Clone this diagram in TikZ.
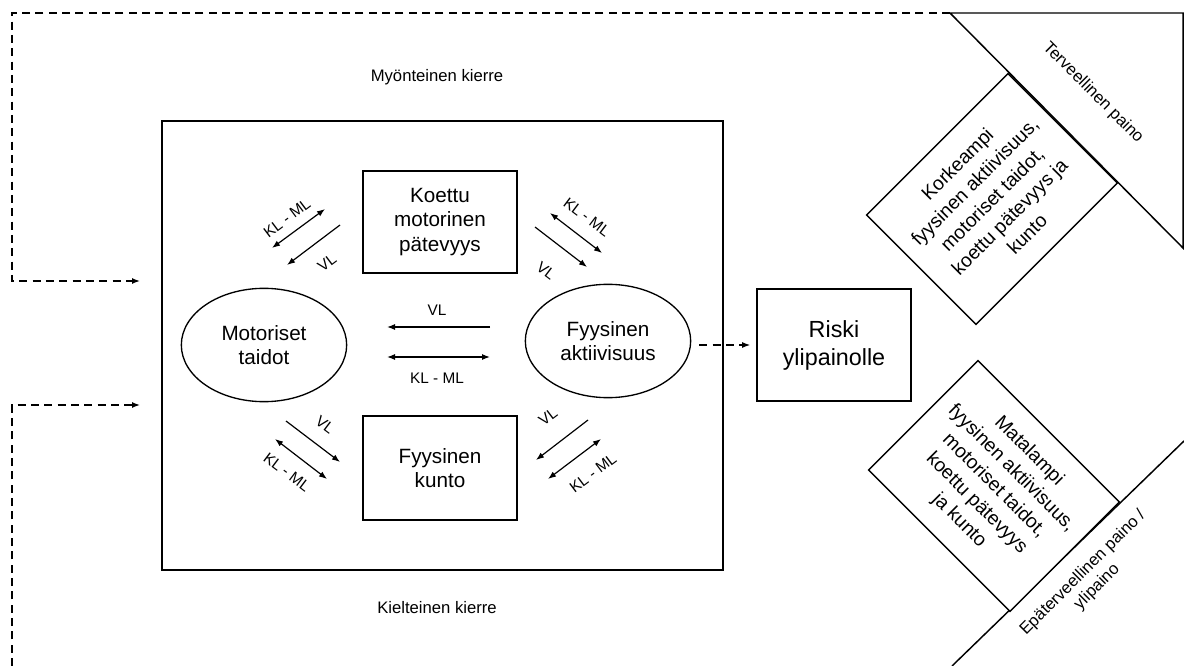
\documentclass[tikz,border=0pt]{standalone}
\usepackage{fontspec}
\setmainfont{Liberation Sans}
\usetikzlibrary{shapes.geometric,arrows.meta}

\tikzset{
  boxnode/.style={draw, line width=1.3pt, align=center, inner sep=0pt,
    font=\fontsize{15.5}{18.5}\selectfont},
  ovalnode/.style={draw, ellipse, line width=1pt, align=center, inner sep=0pt,
    minimum width=124pt, minimum height=85pt, font=\fontsize{15.5}{18.5}\selectfont},
  turnedbox/.style={draw, line width=1.1pt, align=center, inner sep=0pt,
    minimum width=150pt, minimum height=116pt, font=\fontsize{14.5}{18.5}\selectfont},
  pil/.style={line width=0.9pt, -{Latex[length=6pt,width=4.5pt]}},
  tvpil/.style={line width=0.9pt, {Latex[length=6pt,width=4.5pt]}-{Latex[length=6pt,width=4.5pt]}},
  dashloop/.style={line width=1pt, dash pattern=on 6pt off 4pt, -{Latex[length=6pt,width=4.5pt]}},
  pieni/.style={font=\fontsize{11.5}{14}\selectfont},
  selite/.style={align=center, font=\fontsize{12.5}{15}\selectfont},
}

\begin{document}
\begin{tikzpicture}[x=0.75pt, y=-0.75pt]
  \useasboundingbox (0,0) rectangle (1184,666);

  %% main box
  \draw[line width=1.4pt] (162,121) rectangle (723,570);
  \node[selite] (myonteinen) at (437,77) {Myönteinen kierre};
  \node[selite] (kielteinen) at (437,608) {Kielteinen kierre};

  %% nodes
  \node[boxnode, minimum width=115.5pt, minimum height=76.5pt] (patevyys) at (440,222) {Koettu\\motorinen\\pätevyys};
  \node[boxnode, minimum width=115pt, minimum height=78pt] (kunto) at (440,468) {Fyysinen\\kunto};
  \node[ovalnode] (taidot) at (264,345) {Motoriset\\taidot};
  \node[ovalnode] (aktiivisuus) at (608,341) {Fyysinen\\aktiivisuus};
  \node[boxnode, minimum width=115.5pt, minimum height=84pt,
    font=\fontsize{17.5}{21}\selectfont] (riski) at (834,345) {Riski\\ylipainolle};

  %% arrow ends
  \coordinate (tlKLa) at (272,248); \coordinate (tlKLb) at (325,209);
  \coordinate (tlVLa) at (340,225); \coordinate (tlVLb) at (287,265);
  \coordinate (trKLa) at (550,213); \coordinate (trKLb) at (602,253);
  \coordinate (trVLa) at (535,227); \coordinate (trVLb) at (587,267);
  \coordinate (blVLa) at (286,421); \coordinate (blVLb) at (340,462);
  \coordinate (blKLa) at (275,439); \coordinate (blKLb) at (327,479);
  \coordinate (brVLa) at (588,420); \coordinate (brVLb) at (536,460);
  \coordinate (brKLa) at (601,439); \coordinate (brKLb) at (548,479);
  \coordinate (mVLa) at (490,327); \coordinate (mVLb) at (387,327);
  \coordinate (mKLa) at (387,357); \coordinate (mKLb) at (490,357);

  %% arrows
  \draw[tvpil] (tlKLa) -- (tlKLb);
  \draw[pil] (tlVLa) -- (tlVLb);
  \draw[tvpil] (trKLa) -- (trKLb);
  \draw[pil] (trVLa) -- (trVLb);
  \draw[pil] (blVLa) -- (blVLb);
  \draw[tvpil] (blKLa) -- (blKLb);
  \draw[pil] (brVLa) -- (brVLb);
  \draw[tvpil] (brKLa) -- (brKLb);
  \draw[pil] (mVLa) -- (mVLb);
  \draw[tvpil] (mKLa) -- (mKLb);

  %% arrow labels
  \node[pieni, rotate=37] (tlKL) at (287,218) {KL - ML};
  \node[pieni, rotate=37] (tlVL) at (327,263) {VL};
  \node[pieni, rotate=-37] (trKL) at (587,217) {KL - ML};
  \node[pieni, rotate=-37] (trVL) at (546,271) {VL};
  \node[pieni, rotate=-37] (blVL) at (325,425) {VL};
  \node[pieni, rotate=-37] (blKL) at (287,472) {KL - ML};
  \node[pieni, rotate=37] (brVL) at (548,417) {VL};
  \node[pieni, rotate=37] (brKL) at (593,473) {KL - ML};
  \node[pieni] (mVL) at (437,310) {VL};
  \node[pieni] (mKL) at (437,378) {KL - ML};

  %% to risk
  \draw[dashloop, shorten <=6pt, shorten >=4.5pt] (aktiivisuus.east |- riski.west) -- (riski.west);

  %% healthy weight
  \coordinate (karki) at (950,13);
  \draw[line width=1.1pt] (karki) -- (1183,13) -- (1183,248) -- cycle;
  \node[selite, rotate=-45] (terveellinen) at (1093,93) {Terveellinen paino};
  \node[turnedbox, rotate=45, fill=white] (korkeampi) at (992,199)
    {Korkeampi\\fyysinen aktiivisuus,\\motoriset taidot,\\koettu pätevyys ja\\kunto};

  %% overweight
  \draw[line width=1.1pt] (1184,441) -- (952,666);
  \node[selite, rotate=45] (epaterveellinen) at (1090,580) {Epäterveellinen paino /\\ylipaino};
  \node[turnedbox, rotate=-45, fill=white] (matalampi) at (994,486)
    {Matalampi\\fyysinen aktiivisuus,\\motoriset taidot,\\koettu pätevyys\\ja kunto};

  %% feedback loops
  \coordinate (ylasisaan) at (140,281);
  \coordinate (alasisaan) at (140,405);
  \draw[dashloop] (karki) -| (12,281) -- (ylasisaan);
  \draw[dashloop] (12,666) |- (alasisaan);

\end{tikzpicture}
\end{document}
